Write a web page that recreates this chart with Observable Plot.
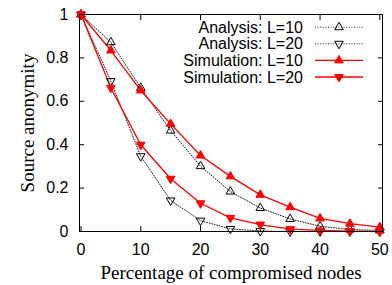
<!DOCTYPE html>
<html>
<head>
<meta charset="utf-8">
<script src="https://cdn.jsdelivr.net/npm/d3@7"></script>
<script src="https://cdn.jsdelivr.net/npm/@observablehq/plot@0.6"></script>
<style>
  html, body { margin: 0; padding: 0; background: white; }
</style>
</head>
<body>
<div id="chart"></div>
<script>
// ---- data ----
const xValues = [0, 5, 10, 15, 20, 25, 30, 35, 40, 45, 50];
const analysisL10 = [1, 0.872, 0.662, 0.465, 0.301, 0.184, 0.108, 0.058, 0.024, 0.009, 0.005];
const analysisL20 = [1, 0.693, 0.347, 0.143, 0.05, 0.012, 0.002, 0, 0, 0, 0];
const simulationL10 = [1, 0.834, 0.65, 0.496, 0.35, 0.254, 0.169, 0.112, 0.06, 0.036, 0.02];
const simulationL20 = [1, 0.662, 0.40, 0.243, 0.13, 0.063, 0.032, 0.011, 0.005, 0.002, 0];
const seriesNames = ["Analysis: L=10", "Analysis: L=20", "Simulation: L=10", "Simulation: L=20"];
const xTicks = [0, 10, 20, 30, 40, 50];
const yTicks = [0, 0.2, 0.4, 0.6, 0.8, 1];
const yTickLabels = ["0", "0.2", "0.4", "0.6", "0.8", "1"];
const xLabel = "Percentage of compromised nodes";
const yLabel = "Source anonymity";

// ---- styles ----
const styles = [
  {stroke: "#000", dash: "1,1.6", width: 1, fill: "none", rotate: 0, lineColor: "#222"},
  {stroke: "#000", dash: "1,1.6", width: 1, fill: "none", rotate: 180, lineColor: "#222"},
  {stroke: "#ff0000", dash: null, width: 1.3, fill: "#ff0000", rotate: 0, lineColor: "#ff0000"},
  {stroke: "#ff0000", dash: null, width: 1.3, fill: "#ff0000", rotate: 180, lineColor: "#ff0000"}
];
const allSeries = [analysisL10, analysisL20, simulationL10, simulationL20];
const tables = allSeries.map((vals, s) => xValues.map((x, i) => ({x, y: vals[i], series: seriesNames[s]})));

const sans = "'Liberation Sans', Arial, Helvetica, sans-serif";
const serif = "'Liberation Serif', 'Times New Roman', serif";
const R = 3.2;

const marks = [];
tables.forEach((t, s) => {
  const st = styles[s];
  marks.push(Plot.line(t, {x: "x", y: "y", stroke: st.lineColor, strokeWidth: st.width, strokeDasharray: st.dash}));
});
tables.forEach((t, s) => {
  const st = styles[s];
  marks.push(Plot.dot(t, {x: "x", y: "y", symbol: "triangle", r: R, rotate: st.rotate,
    stroke: st.stroke, fill: st.fill, strokeWidth: 1}));
});

const chart = Plot.plot({
  width: 392,
  height: 285,
  marginLeft: 79,
  marginRight: 10,
  marginTop: 14,
  marginBottom: 54,
  style: {fontFamily: sans, fontSize: "16px", background: "white", color: "black"},
  x: {domain: [-0.25, 50.45]},
  y: {domain: [0, 1]},
  marks: [
    // tick labels
    Plot.axisX(xTicks, {anchor: "bottom", tickSize: 0, tickPadding: 12, label: null, fontSize: 16}),
    Plot.axisY(yTicks, {anchor: "left", tickSize: 0, tickPadding: 11, label: null, fontSize: 16,
      tickFormat: d => yTickLabels[yTicks.indexOf(d)]}),
    // inward ticks on all four sides
    Plot.axisX(xTicks, {anchor: "bottom", tickSize: 5, dy: -5, tickFormat: () => "", label: null, strokeWidth: 1}),
    Plot.axisX(xTicks, {anchor: "top", tickSize: 5, dy: 5, tickFormat: () => "", label: null, strokeWidth: 1}),
    Plot.axisY(yTicks, {anchor: "left", tickSize: 5, dx: 5, tickFormat: () => "", label: null, strokeWidth: 1}),
    Plot.axisY(yTicks, {anchor: "right", tickSize: 5, dx: -5, tickFormat: () => "", label: null, strokeWidth: 1}),
    ...marks,
    Plot.frame({stroke: "black", strokeWidth: 1}),
    Plot.text([xLabel], {frameAnchor: "bottom", dy: 41, lineAnchor: "middle", textAnchor: "middle", fontFamily: serif, fontSize: 19, fill: "black"}),
    Plot.text([yLabel], {frameAnchor: "left", dx: -52, rotate: -90, lineAnchor: "middle", textAnchor: "middle", fontFamily: serif, fontSize: 19, fill: "black"})
  ]
});

// ---- legend (inside the frame, top-right) ----
const svg = d3.select(chart);
const W = 392, mR = 10, mT = 14;
const frameRight = W - mR;
const textRight = frameRight - 79;
const lineX1 = frameRight - 67, lineX2 = frameRight - 19, markX = (lineX1 + lineX2) / 2;
const leg = svg.append("g").attr("font-family", sans).attr("font-size", 16);
seriesNames.forEach((name, i) => {
  const st = styles[i];
  const yy = mT + 13.2 + i * 16.6;
  leg.append("text").attr("x", textRight).attr("y", yy).attr("dy", "0.35em")
    .attr("text-anchor", "end").attr("fill", "black").text(name);
  const ln = leg.append("line").attr("x1", lineX1).attr("x2", lineX2).attr("y1", yy).attr("y2", yy)
    .attr("stroke", st.lineColor).attr("stroke-width", st.width);
  if (st.dash) ln.attr("stroke-dasharray", st.dash);
  leg.append("path")
    .attr("d", d3.symbol(d3.symbolTriangle, Math.PI * R * R)())
    .attr("transform", `translate(${markX},${yy}) rotate(${st.rotate})`)
    .attr("fill", st.fill).attr("stroke", st.stroke).attr("stroke-width", 1);
});

document.getElementById("chart").appendChild(chart);
</script>
</body>
</html>
